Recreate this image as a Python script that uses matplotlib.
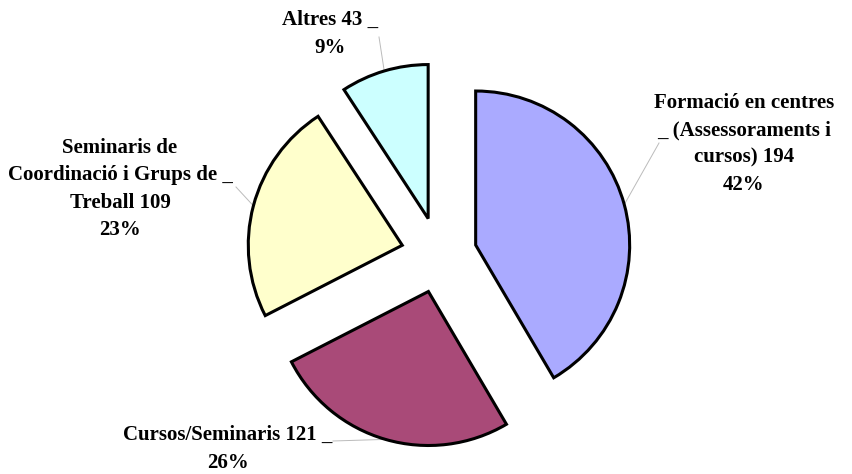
import matplotlib.pyplot as plt
import numpy as np

# dades del gràfic
categories = ["Formació en centres (Assessoraments i cursos)", "Cursos/Seminaris",
              "Seminaris de Coordinació i Grups de Treball", "Altres"]
values = [194, 121, 109, 43]
label_templates = [
    "Formació en centres\n_ (Assessoraments i\ncursos) {v}\n{p}%",
    "Cursos/Seminaris {v} _\n{p}%",
    "Seminaris de\nCoordinació i Grups de _\nTreball {v}\n{p}%",
    "Altres {v} _\n{p}%",
]
colors = ["#AAAAFF", "#A94A78", "#FFFFCC", "#CCFFFF"]

W, H = 853, 474
R = 154.0          # radi en píxels
CX, CY = 439, 255  # centre del pastís (píxels, des de dalt)


def px(x, y):
    return ((x - CX) / R, (CY - y) / R)


plt.rcParams['font.family'] = ['Liberation Serif', 'DejaVu Serif']

fig = plt.figure(figsize=(W / 100, H / 100), dpi=100)
ax = fig.add_axes([0, 0, 1, 1])

wedges, _ = ax.pie(values, colors=colors, startangle=90, counterclock=False,
                   explode=[38 / R] * len(values), radius=1,
                   wedgeprops=dict(edgecolor="black", linewidth=2.2))

ax.set_xlim(-CX / R, (W - CX) / R)
ax.set_ylim(-(H - CY) / R, CY / R)
ax.set_aspect("equal")
ax.axis("off")

total = sum(values)
# posicions dels rètols (píxels): centre del bloc de text i inici de la línia guia
text_pos = [(744, 144), (228, 449), (120, 189), (330, 34)]
leader_start = [(659, 143), (333, 441), (236, 187), (379, 37)]

for w, tpl, v, tp, ls in zip(wedges, label_templates, values, text_pos, leader_start):
    p = int(round(v / total * 100))
    ax.text(*px(*tp), tpl.format(v=v, p=p), ha="center", va="center",
            fontsize=15, fontweight="bold", linespacing=1.5)
    mid = np.deg2rad((w.theta1 + w.theta2) / 2)
    ex = w.center[0] + w.r * np.cos(mid)
    ey = w.center[1] + w.r * np.sin(mid)
    sx, sy = px(*ls)
    ax.plot([sx, ex], [sy, ey], color="#BBBBBB", linewidth=0.7, zorder=0)

fig.savefig("out.png", dpi=100)
